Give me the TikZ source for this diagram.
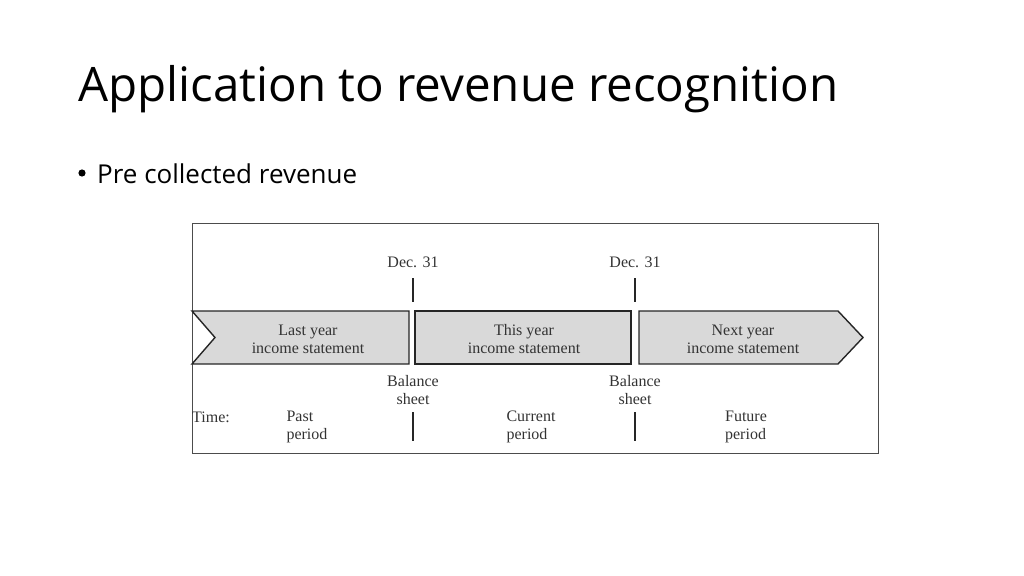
\documentclass[tikz,border=0pt]{standalone}
\usepackage{fontspec}
\setmainfont{Open Sans}
\newfontfamily\figfont{Liberation Serif}
\tikzset{
  band/.style={draw=black!85,line width=1.4pt,fill=gray!30,line join=miter},
  lbl/.style={font=\figfont\fontsize{16}{18}\selectfont,align=center,text=black!80},
  tick/.style={line width=1.1pt,black!85}
}
\begin{document}
\begin{tikzpicture}[x=1pt,y=-1pt]
\useasboundingbox (0,0) rectangle (1024,575);
\node[anchor=base west,font=\fontsize{47.5}{52}\selectfont,inner sep=0] (title) at (78,102) {Application to revenue recognition};
\node[anchor=base west,font=\fontsize{26}{30}\selectfont,inner sep=0] (bullet) at (97,183) {Pre collected revenue};
\fill (82,173) circle (3.6pt);
\draw[black!70,line width=0.8pt] (192,223) rectangle (878,453);
%bands
\draw[band] (192,311) -- (409,311) -- (409,364) -- (192,364) -- (215,337.5) -- cycle;
\draw[band] (415,311) rectangle (631,364);
\draw[band] (639,311) -- (838,311) -- (863,337.5) -- (838,364) -- (639,364) -- cycle;
\node[lbl] (last) at (308,339) {Last year\\income statement};
\node[lbl] (this) at (524,339) {This year\\income statement};
\node[lbl] (next) at (743,339) {Next year\\income statement};
%ticks
\foreach \x/\n in {413/a,635/b}{
  \node[lbl] (dec\n) at (\x,262) {Dec. 31};
  \draw[tick] (\x,278) -- (\x,302);
  \node[lbl] (bs\n) at (\x,390) {Balance\\sheet};
  \draw[tick] (\x,412) -- (\x,441);
}
\node[lbl] (time) at (211,417) {Time:};
\node[lbl,align=left] (past) at (307,427) {Past\\period};
\node[lbl,align=left] (cur) at (531,427) {Current\\period};
\node[lbl,align=left] (fut) at (746,427) {Future\\period};
\end{tikzpicture}
\end{document}
